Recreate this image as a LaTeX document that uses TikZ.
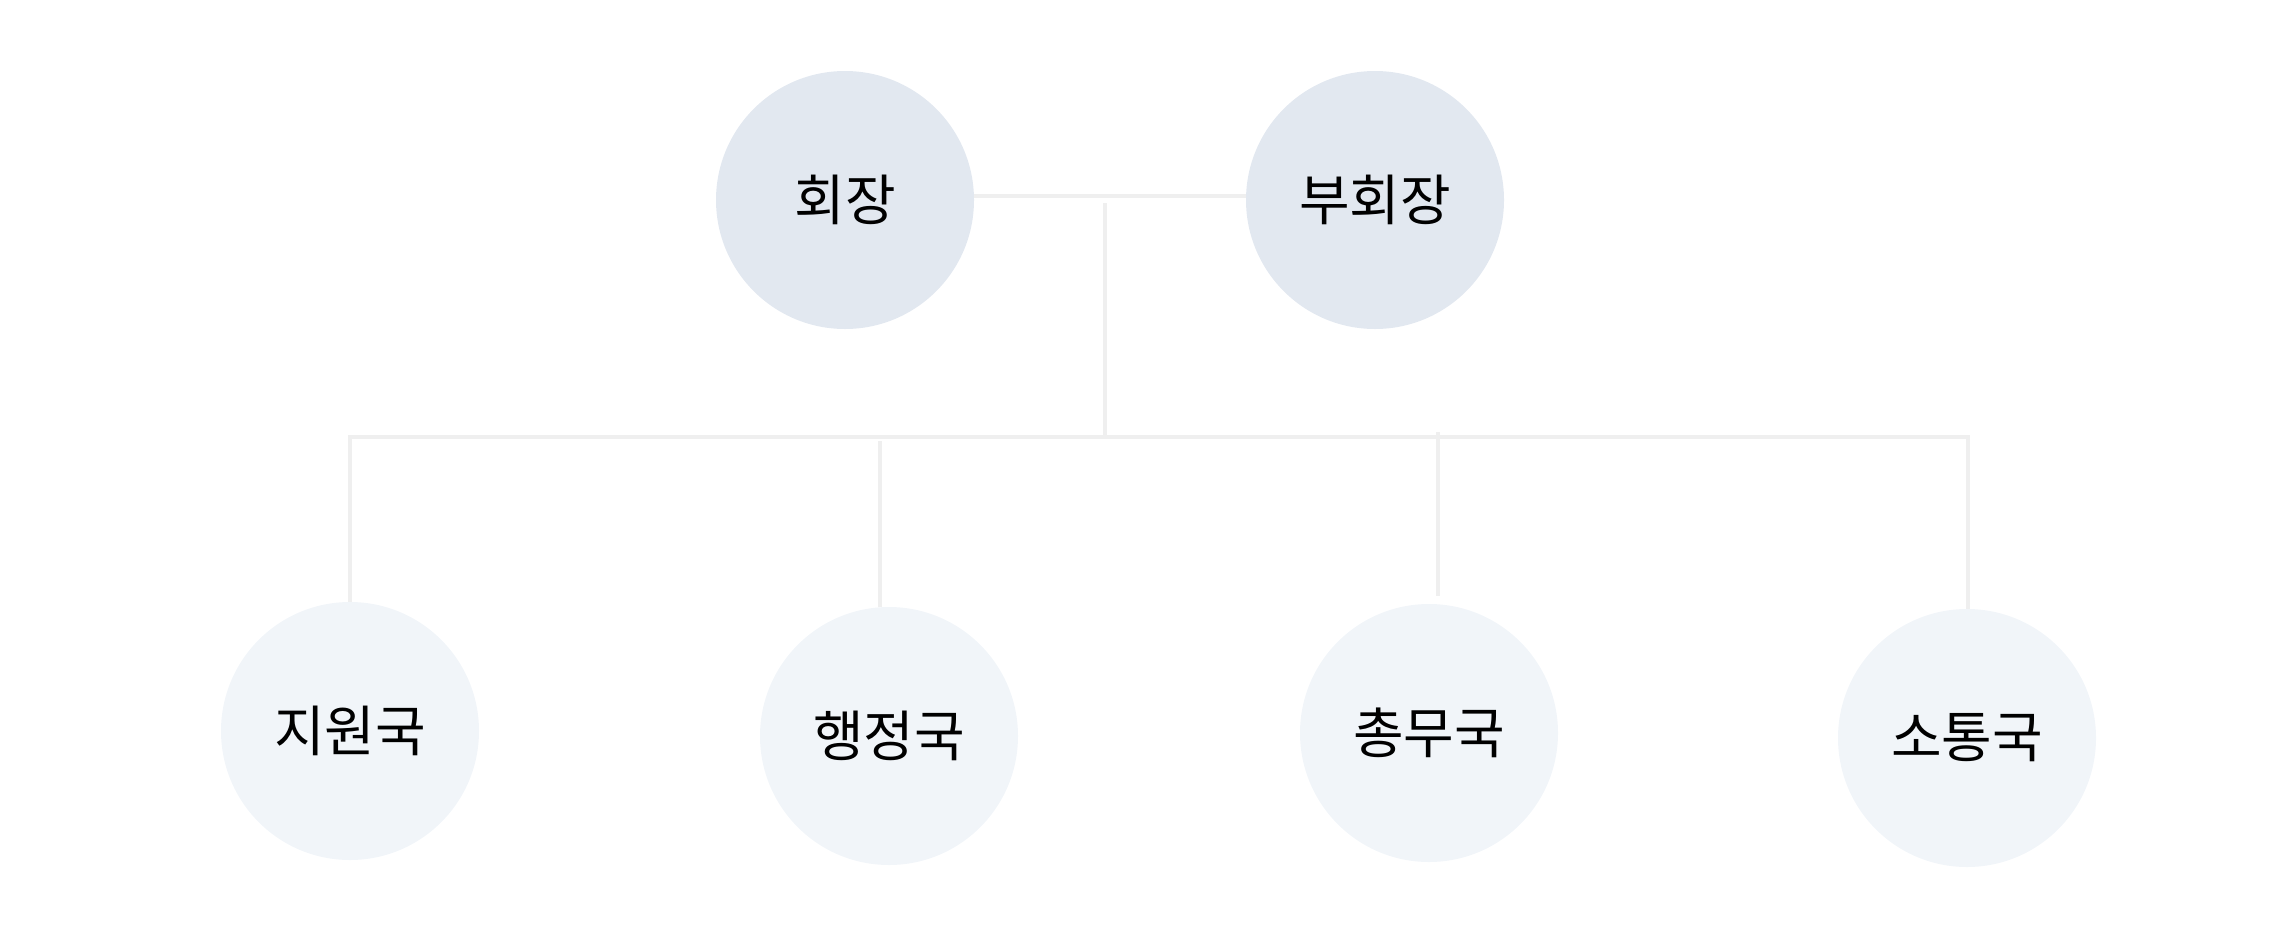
\documentclass[tikz,border=0pt]{standalone}
\usepackage{fontspec}
\setmainfont{Noto Sans CJK KR}
\definecolor{topfill}{HTML}{E2E8F0}
\definecolor{botfill}{HTML}{F1F5F9}
\definecolor{linecol}{HTML}{EFEFEF}
\begin{document}
\begin{tikzpicture}[x=1pt,y=-1pt,
  topnode/.style={circle,fill=topfill,minimum size=258pt,inner sep=0pt,font=\fontsize{55}{66}\selectfont},
  botnode/.style={circle,fill=botfill,minimum size=258pt,inner sep=0pt,font=\fontsize{55}{66}\selectfont},
  conn/.style={draw=linecol,line width=4pt}]
\useasboundingbox (0,0) rectangle (2285,946);
\node[topnode] (hj) at (845,200) {회장};
\node[topnode] (bhj) at (1375,200) {부회장};
\node[botnode] (jw) at (350,731) {지원국};
\node[botnode] (hjg) at (889,736) {행정국};
\node[botnode] (cm) at (1429,733) {총무국};
\node[botnode] (st) at (1967,738) {소통국};
\coordinate (top) at (1105,203);
\coordinate (bus) at (1105,437);
\coordinate (busL) at (350,437);
\coordinate (busR) at (1968,437);
\coordinate (d2) at (880,441);
\coordinate (d3) at (1438,432);
\begin{scope}[on background layer/.try]
\draw[conn] ([yshift=4pt]hj.east) -- ([yshift=4pt]bhj.west);
\draw[conn] (top) -- (bus);
\draw[conn] (jw.north) -- (busL) -- (busR) -- (busR |- st.north);
\draw[conn] (d2) -- (d2 |- hjg.north);
\draw[conn] (d3) -- ([yshift=8pt]d3 |- cm.north);
\end{scope}
\end{tikzpicture}
\end{document}
